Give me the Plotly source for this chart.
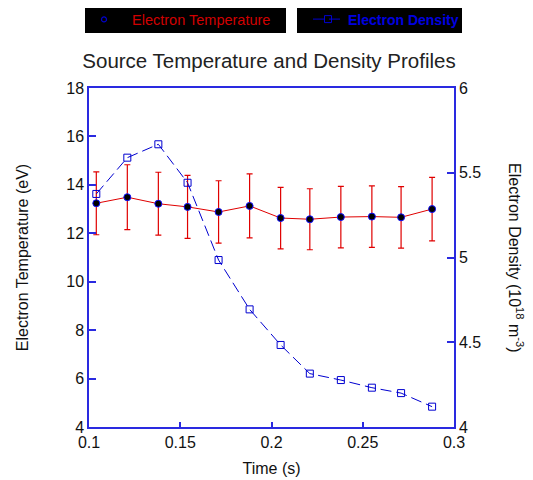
import plotly.graph_objects as go

# ---- data ----
time_s = [0.104, 0.121, 0.138, 0.154, 0.171, 0.188, 0.205, 0.221, 0.238, 0.255, 0.271, 0.288]
temperature_ev = [13.24, 13.49, 13.22, 13.09, 12.88, 13.13, 12.63, 12.58, 12.67, 12.69, 12.66, 13.00]
temperature_err = [1.30, 1.34, 1.30, 1.30, 1.29, 1.32, 1.27, 1.26, 1.27, 1.27, 1.27, 1.31]
density = [5.375, 5.589, 5.668, 5.441, 4.985, 4.694, 4.484, 4.315, 4.277, 4.232, 4.200, 4.120]

x_ticks = [0.1, 0.15, 0.2, 0.25, 0.3]
y_ticks = [4, 6, 8, 10, 12, 14, 16, 18]
y2_ticks = [4, 4.5, 5, 5.5, 6]

FONT = "Liberation Sans, Arial, Helvetica, sans-serif"
AXIS_BLUE = "#2a2ae0"
DATA_BLUE = "#0000d0"
RED = "#e00000"

fig = go.Figure()

# temperature with error bars (left axis)
fig.add_trace(go.Scatter(
    x=time_s, y=temperature_ev,
    mode="lines+markers",
    line=dict(color=RED, width=1),
    marker=dict(symbol="circle", size=7, color="black", line=dict(color="#1010ff", width=1)),
    error_y=dict(type="data", array=temperature_err, visible=True,
                 color=RED, thickness=1.2, width=3),
    showlegend=False, yaxis="y",
))

# density (right axis)
fig.add_trace(go.Scatter(
    x=time_s, y=density,
    mode="lines+markers",
    line=dict(color=DATA_BLUE, width=1, dash="11px,5px"),
    marker=dict(symbol="square-open", size=7, color=DATA_BLUE, line=dict(width=1)),
    name="Electron Density", legend="legend2", showlegend=True, yaxis="y2",
))

# legend-only entry for the temperature series (as drawn in the reference legend)
fig.add_trace(go.Scatter(
    x=[None], y=[None], mode="markers",
    marker=dict(symbol="circle-open", size=5, color=DATA_BLUE, line=dict(width=1.2)),
    name="\u00a0\u00a0Electron Temperature", legend="legend", showlegend=True, yaxis="y",
))

# page body has an 8px margin: work in figure pixels = screenshot pixels - 8
OFF = 8
FW, FH = 533 - OFF, 480 - OFF
L, R, T, B = 89 - OFF, 454 - OFF, 88 - OFF, 427 - OFF
W, H = R - L, B - T
px = lambda v: (v - OFF - L) / W     # v given in screenshot pixels
py = lambda v: (B - (v - OFF)) / H

fig.update_layout(
    width=FW, height=FH,
    margin=dict(l=L, r=FW - R, t=T, b=FH - B, autoexpand=False),
    paper_bgcolor="white", plot_bgcolor="white",
    font=dict(family=FONT, size=16, color="#111"),
    title=dict(text="Source Temperature and Density Profiles",
               font=dict(family=FONT, size=20.5, color="#222"),
               x=px(269), xref="paper", xanchor="center",
               y=1 - (61 - OFF) / FH, yref="container", yanchor="middle"),
    xaxis=dict(range=[0.1, 0.3], tickvals=x_ticks, ticktext=[f"{v:g}" for v in x_ticks],
               showline=True, linecolor=AXIS_BLUE, linewidth=1.5, mirror=True,
               ticks="inside", ticklen=5, tickcolor=AXIS_BLUE, tickwidth=1.5,
               showgrid=False, zeroline=False,
               title=dict(text="Time (s)", font=dict(size=16), standoff=13)),
    yaxis=dict(range=[4, 18], tickvals=y_ticks,
               showline=True, linecolor=AXIS_BLUE, linewidth=1.5,
               ticks="inside", ticklen=7, tickcolor=AXIS_BLUE, tickwidth=1.5,
               showgrid=False, zeroline=False,
               title=dict(text="Electron Temperature (eV)", font=dict(size=16), standoff=34)),
    yaxis2=dict(range=[4, 6], tickvals=y2_ticks, ticktext=[f"{v:g}" for v in y2_ticks],
                overlaying="y", side="right",
                showline=True, linecolor=AXIS_BLUE, linewidth=1.5,
                ticks="inside", ticklen=7, tickcolor=AXIS_BLUE, tickwidth=1.5,
                showgrid=False, zeroline=False),
    legend=dict(x=px(84), xanchor="left", y=py(19.5), yanchor="middle",
                bgcolor="rgba(0,0,0,0)", borderwidth=0,
                font=dict(family=FONT, size=14.5, color="#d00000")),
    legend2=dict(x=px(308), xanchor="left", y=py(19.5), yanchor="middle",
                 bgcolor="rgba(0,0,0,0)", borderwidth=0,
                 font=dict(family=FONT, size=14, color="#0000e0", weight="bold")),
    shapes=[
        dict(type="rect", xref="paper", yref="paper", layer="below",
             x0=px(85), x1=px(286), y0=py(33), y1=py(6),
             fillcolor="black", line=dict(width=0)),
        dict(type="rect", xref="paper", yref="paper", layer="below",
             x0=px(297), x1=px(462), y0=py(33), y1=py(6),
             fillcolor="black", line=dict(width=0)),
    ],
    annotations=[
        dict(text="Electron Density (10<sup>18</sup> m<sup>-3</sup>)", textangle=90,
             xref="paper", yref="paper", x=px(516), y=py(258),
             xanchor="center", yanchor="middle", showarrow=False,
             font=dict(family=FONT, size=16, color="#111")),
    ],
)

fig.write_html("out.html")
